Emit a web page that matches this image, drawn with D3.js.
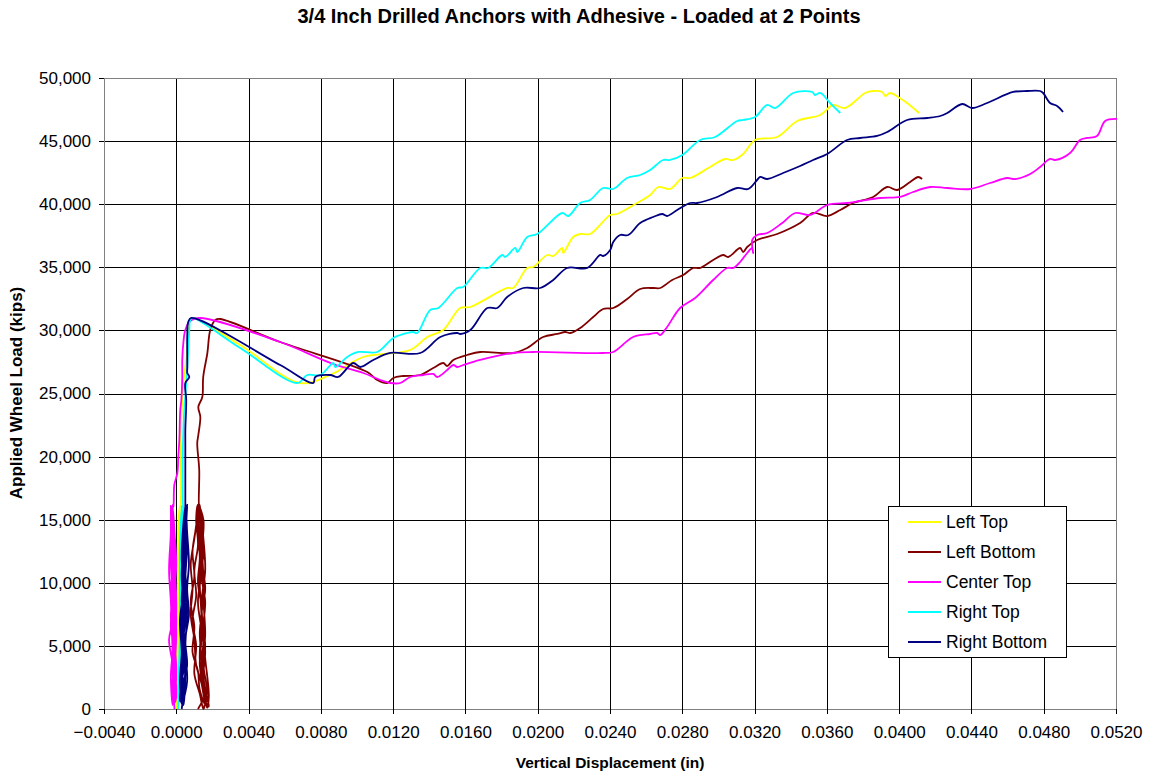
<!DOCTYPE html>
<html><head><meta charset="utf-8">
<script src="https://cdn.jsdelivr.net/npm/d3@7"></script>
<style>
body{margin:0;background:#fff;}
text{font-family:"Liberation Sans",Arial,Helvetica,sans-serif;fill:#000;}
</style>
</head><body>
<svg id="chart" width="1152" height="775"></svg>
<script>
// ---------- data ----------
const chartTitle = "3/4 Inch Drilled Anchors with Adhesive - Loaded at 2 Points";
const xTitle = "Vertical Displacement (in)";
const yTitle = "Applied Wheel Load (kips)";
const seriesNames = ["Left Top","Left Bottom","Center Top","Right Top","Right Bottom"];
const seriesColors = ["#FFFF00","#800000","#FF00FF","#00FFFF","#000080"];
const xTicks = [-0.004,0,0.004,0.008,0.012,0.016,0.020,0.024,0.028,0.032,0.036,0.040,0.044,0.048,0.052];
const yTicks = [0,5000,10000,15000,20000,25000,30000,35000,40000,45000,50000];

// [displacement (in), load]
const leftTop = [
 [0.0000,0],[0.0001,2500],[0.0001,5000],[0.0000,7500],[0.0001,10000],[0.0001,12500],[0.0002,15000],[0.0002,16000],
 [0.0001,13000],[0.0001,9000],[0.0000,5000],[0.0001,1500],[0.0001,400],[0.0001,3500],[0.0001,7000],[0.0002,11000],
 [0.0001,14000],[0.0002,16100],[0.0002,12000],[0.0001,8000],[0.0001,4000],[0.0000,1000],[0.0001,3000],[0.0001,6500],
 [0.0002,10500],[0.0002,14500],[0.0002,16000],
 [0.00022,16006],[0.00026,22108],[0.00039,25832],[0.0005,27100],[0.00061,28447],[0.00066,30032],[0.00077,30825],
 [0.00089,30984],[0.00354,28843],[0.00686,25832],[0.00852,26466],[0.01035,27892],[0.01295,28447],[0.01389,29477],
 [0.01477,30032],[0.01571,31775],[0.01627,31854],[0.01831,33360],[0.01864,33360],[0.01942,34945],[0.01975,35024],
 [0.02053,35975],[0.02086,35896],[0.02136,36530],[0.02141,36133],[0.02196,37401],[0.02235,37639],[0.0229,37639],
 [0.02401,39145],[0.0244,39224],[0.0255,40095],[0.02622,40729],[0.02667,41363],[0.02733,41205],[0.028,42076],
 [0.02844,42076],[0.02954,42948],[0.03037,43582],[0.03082,43503],[0.03137,43978],[0.03203,45088],[0.03325,45325],
 [0.03436,46593],[0.03563,47069],[0.03635,47861],[0.03701,47623],[0.03812,48812],[0.03856,48970],[0.03906,48891],
 [0.03923,48574],[0.0395,48812],[0.03994,48495],[0.04044,48019],[0.0411,47227]
];
const leftBottom = [
 [0.0012,0],[0.0014,500],[0.0016,1200],[0.0015,2500],[0.0014,4000],[0.0013,6000],[0.0014,8000],[0.0012,10000],
 [0.0013,12000],[0.0012,14000],[0.0013,16200],[0.0014,14500],[0.0015,12500],[0.0014,10500],[0.0016,8500],[0.0015,6500],
 [0.0016,4500],[0.0015,2500],[0.0017,1000],[0.0018,200],[0.0016,600],[0.0014,2000],[0.0011,3500],[0.0010,5500],
 [0.0008,7500],[0.0009,9500],[0.0008,11500],[0.0010,13500],[0.0012,15500],[0.0013,16100],[0.0014,14000],[0.0016,11500],
 [0.0015,9000],[0.0016,6000],[0.0015,3500],[0.0017,1500],[0.0016,400],[0.0013,1500],[0.0012,3000],[0.0009,4500],
 [0.0010,6500],[0.0008,8500],[0.0010,10500],[0.0009,12500],[0.0011,14500],[0.0012,16200],[0.0014,13000],[0.0015,10000],
 [0.0014,7000],[0.0016,4000],[0.0018,1000],[0.0017,100],[0.0015,1800],[0.0013,4000],[0.0014,7000],[0.0013,10000],
 [0.0014,13000],[0.0013,16000],[0.0015,13500],[0.0016,11000],[0.0014,8500],[0.0015,5500],[0.0014,3000],[0.0016,800],
 [0.0015,0],[0.0013,1200],[0.0010,2800],[0.0011,5000],[0.0009,7000],[0.0011,9000],[0.0010,11000],[0.0012,13000],
 [0.0011,15000],[0.0012,16200],[0.0015,15000],[0.0014,12000],[0.0016,9500],[0.0014,7500],[0.0016,5000],[0.0014,2500],
 [0.0017,600],[0.0015,1500],[0.0013,3500],[0.0014,6000],[0.0012,8500],[0.0014,11000],[0.0013,13500],[0.0013,16000],
 [0.00127,16006],[0.00127,18938],[0.00116,21078],[0.00122,21712],[0.00133,23138],[0.00122,23930],[0.00144,24723],
 [0.00149,26308],[0.00172,28209],[0.00188,30032],[0.00216,30825],[0.00243,30904],[0.00575,29081],[0.01057,26704],
 [0.01112,26070],[0.01167,25832],[0.01201,26228],[0.01256,26387],[0.0135,26466],[0.01422,27021],[0.01477,27417],
 [0.01499,27179],[0.01533,27655],[0.0161,28051],[0.01682,28289],[0.01864,28210],[0.01942,28606],[0.0203,29477],
 [0.02108,29715],[0.02152,29874],[0.0218,29794],[0.02235,30190],[0.02307,31062],[0.02362,31696],[0.02418,31775],
 [0.02495,32488],[0.02567,33281],[0.02639,33360],[0.02678,33360],[0.02744,33994],[0.02805,34390],[0.0286,34945],
 [0.02899,34945],[0.02971,35579],[0.03026,35975],[0.03054,35816],[0.0312,36530],[0.03137,36213],[0.03159,36609],
 [0.03214,37164],[0.03325,37639],[0.03452,38511],[0.03524,39303],[0.03602,39065],[0.03674,39541],[0.03746,40095],
 [0.03856,40571],[0.03934,41363],[0.03989,41126],[0.04061,41759],[0.04105,42156],[0.04127,41997]
];
const centerTop = [
 [-0.0001,0],[-0.0002,3000],[-0.0002,6000],[-0.0003,9000],[-0.0002,12000],[-0.0003,14500],[-0.0002,16000],
 [-0.0001,13000],[-0.0001,10000],[0.0000,7000],[-0.0001,4000],[0.0000,1000],[-0.0001,500],[-0.0002,3500],
 [-0.0004,5500],[-0.0002,7000],[-0.0002,10500],[-0.0003,13500],[-0.0002,16200],[-0.0001,12000],[0.0000,8000],
 [-0.0001,5000],[-0.0001,2000],[-0.0002,4500],[-0.0003,8500],[-0.0004,11000],[-0.0003,14000],[-0.0003,16100],
 [-0.0002,11000],[-0.0001,6500],[-0.0001,1500],[-0.0002,5000],[-0.0002,9500],[-0.0003,13000],[-0.0002,16000],
 [-0.0001,14000],[0.0000,11500],[-0.0001,9000],[0.0000,6000],[-0.0001,3000],[-0.0002,300],[-0.0003,2500],
 [-0.0002,5000],[-0.0003,7500],[-0.0002,9000],[-0.0003,11500],[-0.0002,14000],[-0.0003,16100],[-0.0002,13500],
 [-0.0001,10500],[-0.0002,8000],[-0.0001,5500],[0.0000,3000],[-0.0001,800],[-0.0002,2000],[-0.0001,4500],
 [-0.0003,6500],[-0.0002,9000],[-0.0003,12500],[-0.0002,16000],
 [-0.00017,16006],[-0.00011,17750],[0.00006,18701],[0.00011,19968],[0.00017,21316],[0.00022,23693],[0.00028,24485],
 [0.00033,26308],[0.00033,27655],[0.00039,29002],[0.0005,30032],[0.00077,30745],[0.00133,30984],[0.00575,29081],
 [0.00869,27338],[0.01035,26625],[0.01129,26070],[0.01184,25832],[0.01239,25832],[0.01295,26308],[0.01367,26466],
 [0.01422,26546],[0.01444,26308],[0.01499,26862],[0.01533,27259],[0.01555,27100],[0.01588,27259],[0.01682,27655],
 [0.01864,28210],[0.01975,28289],[0.02362,28210],[0.02418,28289],[0.02528,29477],[0.02622,29715],[0.02661,29794],
 [0.02678,29636],[0.02716,30270],[0.02788,31775],[0.02871,32568],[0.02971,33994],[0.03048,34945],[0.03082,34945],
 [0.0312,35420],[0.03159,36133],[0.03187,36530],[0.03192,36133],[0.03187,37164],[0.03214,37560],[0.0327,37718],
 [0.03353,38511],[0.03425,39303],[0.03508,39145],[0.03602,39937],[0.03712,40095],[0.03784,40254],[0.03895,40492],
 [0.04006,40571],[0.04077,40967],[0.04172,41363],[0.04266,41284],[0.04393,41205],[0.04503,41680],[0.04598,42076],
 [0.04642,41997],[0.04725,42393],[0.0478,42948],[0.04835,43582],[0.04863,43503],[0.04946,44057],[0.05001,45088],
 [0.0504,45246],[0.05095,45405],[0.0514,46593],[0.05206,46752]
];
const rightTop = [
 [0.0001,0],[0.0002,3000],[0.0002,6000],[0.0002,9000],[0.0003,12000],[0.0003,14500],[0.0003,16000],[0.0002,12500],
 [0.0002,8500],[0.0002,4500],[0.0001,800],[0.0002,3500],[0.0002,7500],[0.0003,11500],[0.0003,15500],[0.0003,16100],
 [0.0002,11000],[0.0002,6000],[0.0001,1500],[0.0002,5500],[0.0003,10000],[0.0003,14000],[0.0004,16000],
 [0.00039,16006],[0.00039,22108],[0.00055,25832],[0.00061,27100],[0.00066,28447],[0.00072,30032],[0.00077,30825],
 [0.00089,30984],[0.00354,28606],[0.00669,25832],[0.00725,26466],[0.00797,26466],[0.00869,27417],[0.0088,27100],
 [0.00946,27892],[0.01007,28289],[0.01112,28289],[0.01201,29398],[0.01278,29794],[0.01311,29874],[0.01333,29794],
 [0.01405,31617],[0.0145,31775],[0.01555,33360],[0.01588,33439],[0.01682,34945],[0.01726,34945],[0.01804,35975],
 [0.0182,35816],[0.01876,36530],[0.01887,36213],[0.01942,37401],[0.01997,37639],[0.02136,39303],[0.02169,39065],
 [0.02235,40095],[0.0229,40333],[0.02362,41284],[0.02418,41205],[0.02495,42076],[0.02567,42314],[0.02622,42710],
 [0.02694,43503],[0.02733,43503],[0.028,43899],[0.02899,45088],[0.02982,45325],[0.03104,46593],[0.03137,46673],
 [0.03203,46910],[0.0327,47861],[0.03314,47623],[0.03414,48812],[0.03519,48891],[0.03535,48653],[0.03563,48812],
 [0.03618,48019],[0.03674,47227]
];
const rightBottom = [
 [0.0003,0],[0.0004,1500],[0.0003,3000],[0.0005,4500],[0.0004,6000],[0.0005,8000],[0.0004,10000],[0.0005,12000],
 [0.0005,14000],[0.0006,16000],[0.0005,13500],[0.0004,11000],[0.0003,8500],[0.0004,6000],[0.0003,3500],[0.0004,1200],
 [0.0002,600],[0.0003,2500],[0.0004,4500],[0.0003,7000],[0.0005,9500],[0.0004,12500],[0.0005,14500],[0.0006,16200],
 [0.0005,14000],[0.0004,11500],[0.0005,9000],[0.0004,6500],[0.0005,4000],[0.0003,2000],[0.0004,300],[0.0005,2800],
 [0.0004,5500],[0.0006,8500],[0.0005,11000],[0.0006,13500],[0.0005,16100],[0.0004,13000],[0.0005,10000],[0.0003,7500],
 [0.0004,5000],[0.0003,2500],[0.0004,1000],[0.0005,3800],[0.0004,7200],[0.0005,10500],[0.0006,13000],[0.0005,16000],
 [0.0004,14800],[0.0003,12000],[0.0004,9500],[0.0002,7000],[0.0003,4500],[0.0002,2200],[0.0003,400],[0.0004,2000],
 [0.0006,3500],[0.0005,5500],[0.0007,7500],[0.0006,9500],[0.0007,11500],[0.0006,14000],[0.0005,16200],[0.0004,13500],
 [0.0003,10500],[0.0004,8000],[0.0003,5500],[0.0005,3000],[0.0004,800],[0.0006,2200],[0.0005,4800],[0.0006,7800],
 [0.0005,10800],[0.0004,13800],[0.0005,16000],
 [0.0005,16006],[0.0005,21078],[0.0005,22108],[0.00055,24485],[0.0005,25832],[0.00072,26308],[0.00061,26625],
 [0.00061,27100],[0.00061,29794],[0.00066,30666],[0.00083,30984],[0.00575,27259],[0.00758,25832],[0.00769,26308],
 [0.00852,26466],[0.00896,26308],[0.00979,27417],[0.01018,27100],[0.0109,27654],[0.01184,28210],[0.0135,28210],
 [0.01461,29477],[0.01555,29794],[0.01571,29715],[0.01627,30032],[0.01721,31775],[0.01776,31775],[0.01831,32647],
 [0.0192,33360],[0.02014,33360],[0.02086,33994],[0.02163,34945],[0.02274,34945],[0.02346,35975],[0.02362,35896],
 [0.02401,36372],[0.02418,37005],[0.02456,37560],[0.02501,37560],[0.02567,38511],[0.02639,38985],[0.02689,39224],
 [0.02716,39065],[0.02772,39541],[0.02844,40095],[0.02882,40095],[0.02993,40571],[0.03104,41284],[0.03165,41205],
 [0.03214,41918],[0.03231,42156],[0.0327,41997],[0.03358,42473],[0.03452,43027],[0.03524,43503],[0.03602,43978],
 [0.03712,45088],[0.03784,45246],[0.03878,45405],[0.03934,45721],[0.04044,46672],[0.04155,46831],[0.04227,46989],
 [0.04266,47227],[0.04349,47940],[0.04404,47623],[0.04487,48019],[0.04631,48891],[0.04708,48970],[0.0478,48970],
 [0.04797,48812],[0.04835,48019],[0.04874,47782],[0.04907,47306]
];
const seriesData = [leftTop, leftBottom, centerTop, rightTop, rightBottom];

// ---------- layout ----------
const W = 1152, H = 775;
const plot = {left:104, top:78, right:1116, bottom:709};
const x = d3.scaleLinear().domain([-0.004, 0.052]).range([plot.left, plot.right]);
const y = d3.scaleLinear().domain([0, 50000]).range([plot.bottom, plot.top]);

const svg = d3.select("#chart");
svg.append("rect").attr("width",W).attr("height",H).attr("fill","#fff");

// gridlines
const grid = svg.append("g").attr("shape-rendering","crispEdges");
grid.selectAll("line.v").data(xTicks).join("line")
  .attr("x1",d=>Math.round(x(d))+0.5).attr("x2",d=>Math.round(x(d))+0.5)
  .attr("y1",plot.top).attr("y2",plot.bottom).attr("stroke","#000").attr("stroke-width",1);
grid.selectAll("line.h").data(yTicks).join("line")
  .attr("y1",d=>Math.round(y(d))+0.5).attr("y2",d=>Math.round(y(d))+0.5)
  .attr("x1",plot.left).attr("x2",plot.right).attr("stroke","#000").attr("stroke-width",1);

// plot border
svg.append("rect").attr("x",plot.left+0.5).attr("y",plot.top+0.5)
  .attr("width",plot.right-plot.left).attr("height",plot.bottom-plot.top)
  .attr("fill","none").attr("stroke","#808080").attr("stroke-width",1).attr("shape-rendering","crispEdges");

// axes
const xAxis = d3.axisBottom(x).tickValues(xTicks).tickFormat(d3.format(".4f")).tickSize(5).tickPadding(12);
const yAxis = d3.axisLeft(y).tickValues(yTicks).tickFormat(d3.format(",")).tickSize(5).tickPadding(8);
const gx = svg.append("g").attr("transform",`translate(0,${plot.bottom})`).call(xAxis);
const gy = svg.append("g").attr("transform",`translate(${plot.left},0)`).call(yAxis);
[gx,gy].forEach(g=>{
  g.select(".domain").remove();
  g.selectAll(".tick line").attr("stroke","#000").attr("shape-rendering","crispEdges");
  g.selectAll(".tick text").attr("font-size","17px").attr("font-family",'"Liberation Sans",Arial,sans-serif').attr("fill","#000");
});

// series
svg.append("clipPath").attr("id","clip").append("rect")
  .attr("x",plot.left).attr("y",plot.top-2).attr("width",plot.right-plot.left+1).attr("height",plot.bottom-plot.top+4);
const line = d3.line().x(d=>x(d[0])).y(d=>y(d[1])).curve(d3.curveCatmullRom.alpha(0.5));
const gl = svg.append("g").attr("clip-path","url(#clip)");
seriesData.forEach((s,i)=>{
  gl.append("path").datum(s).attr("d",line).attr("fill","none")
    .attr("stroke",seriesColors[i]).attr("stroke-width",1.8).attr("stroke-linejoin","round");
});

// legend
const lg = svg.append("g").attr("transform","translate(888,506)");
lg.append("rect").attr("x",0.5).attr("y",0.5).attr("width",178).attr("height",151)
  .attr("fill","#fff").attr("stroke","#000").attr("stroke-width",1).attr("shape-rendering","crispEdges");
seriesNames.forEach((n,i)=>{
  const yy = 16 + i*30;
  lg.append("line").attr("x1",20).attr("x2",53).attr("y1",yy).attr("y2",yy)
    .attr("stroke",seriesColors[i]).attr("stroke-width",2);
  lg.append("text").attr("x",58).attr("y",yy).attr("dy","0.36em").attr("font-size","17.5px").text(n);
});

// titles
svg.append("text").attr("x",579).attr("y",23).attr("text-anchor","middle")
  .attr("font-size","20px").attr("font-weight","bold").text(chartTitle);
svg.append("text").attr("x",610).attr("y",768).attr("text-anchor","middle")
  .attr("font-size","15.5px").attr("font-weight","bold").text(xTitle);
svg.append("text").attr("transform","translate(22,393) rotate(-90)").attr("text-anchor","middle")
  .attr("font-size","17px").attr("font-weight","bold").text(yTitle);
</script>
</body></html>
